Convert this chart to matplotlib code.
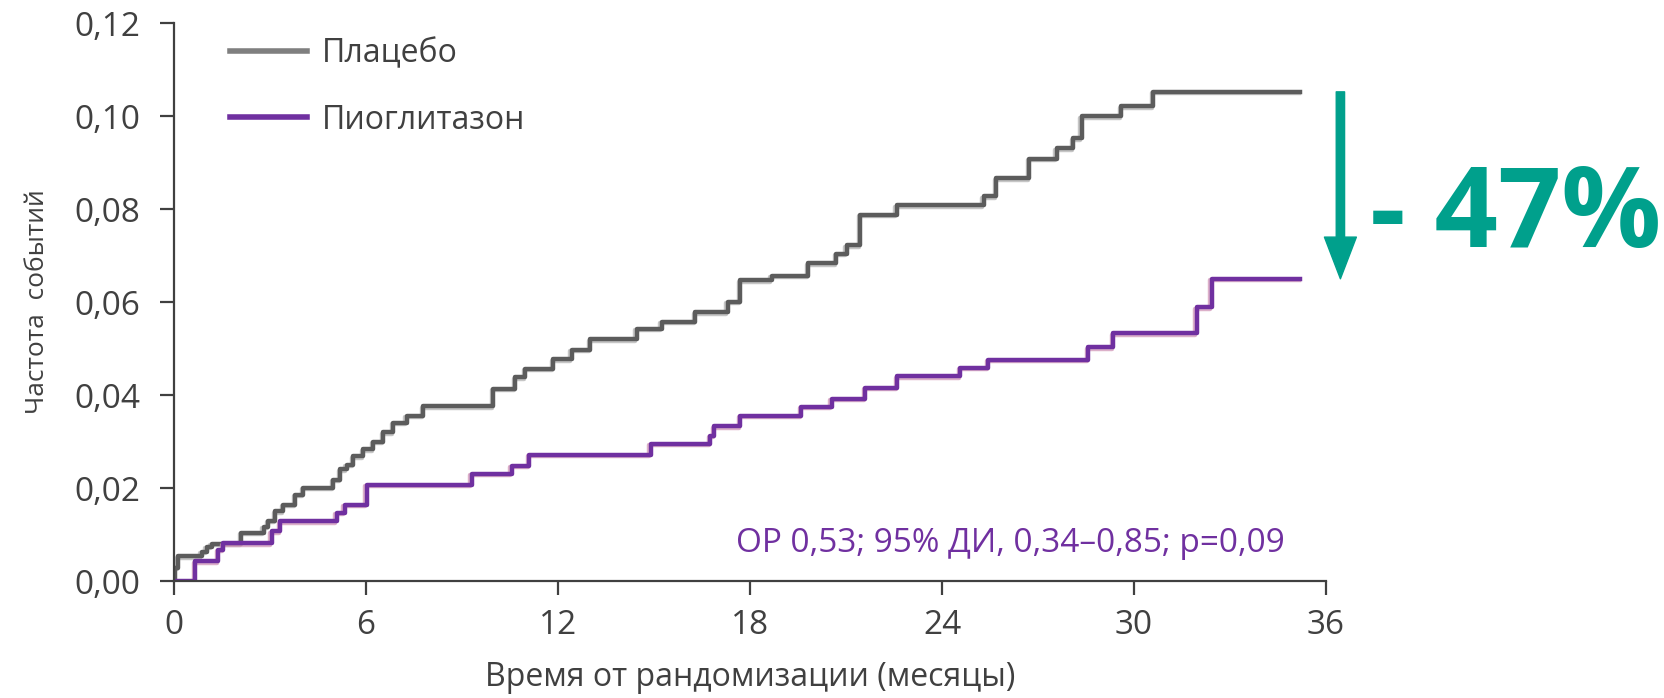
import matplotlib
matplotlib.use("Agg")
import matplotlib.pyplot as plt
import matplotlib.patheffects as pe
from matplotlib.lines import Line2D
from matplotlib.ticker import FuncFormatter

plt.rcParams['font.family'] = ['Open Sans', 'DejaVu Sans']

# кривые Каплана-Мейера: (месяц, частота событий после шага)
placebo_t = [0, 0.03, 0.14, 0.86, 1.02, 1.18, 2.10, 2.80, 2.95, 3.16, 3.42, 3.78, 4.04,
             4.98, 5.19, 5.40, 5.60, 5.92, 6.23, 6.54, 6.85, 7.27, 7.79, 9.98, 10.66,
             10.97, 11.85, 12.43, 13.00, 14.46, 15.24, 16.28, 17.30, 17.69, 18.68, 19.82,
             20.70, 21.02, 21.44, 22.58, 25.30, 25.70, 26.73, 27.58, 28.10, 28.37, 29.60,
             30.60, 35.2]
placebo_y = [0, 0.0028, 0.0053, 0.0063, 0.0074, 0.0080, 0.0104, 0.0117, 0.0130, 0.0150,
             0.0164, 0.0186, 0.0200, 0.0218, 0.0240, 0.0250, 0.0268, 0.0283, 0.0300, 0.0320,
             0.0340, 0.0355, 0.0376, 0.0413, 0.0438, 0.0456, 0.0477, 0.0497, 0.0520, 0.0542,
             0.0557, 0.0578, 0.0601, 0.0647, 0.0657, 0.0683, 0.0704, 0.0722, 0.0787, 0.0808,
             0.0827, 0.0866, 0.0908, 0.0931, 0.0952, 0.0999, 0.1021, 0.1052, 0.1052]

pio_t = [0, 0.66, 1.39, 1.54, 3.05, 3.31, 5.08, 5.34, 6.02, 9.30, 10.55, 11.10, 14.90,
         16.75, 16.88, 17.70, 19.60, 20.55, 21.60, 22.60, 24.56, 25.45, 28.57, 29.35,
         31.96, 32.43, 35.2]
pio_y = [0, 0.0042, 0.0067, 0.0081, 0.0107, 0.0128, 0.0147, 0.0164, 0.0207, 0.0230,
         0.0248, 0.0272, 0.0295, 0.0312, 0.0333, 0.0355, 0.0375, 0.0392, 0.0416, 0.0440,
         0.0459, 0.0476, 0.0503, 0.0533, 0.0589, 0.0650, 0.0650]

x_ticks = [0, 6, 12, 18, 24, 30, 36]
y_ticks = [0, 0.02, 0.04, 0.06, 0.08, 0.10, 0.12]

labels = ['Плацебо', 'Пиоглитазон']
hr_text = 'ОР 0,53; 95% ДИ, 0,34–0,85; p=0,09'
reduction = '- 47%'

dark = '#404040'
gray = '#5c5c5c'
purple = '#7030a0'
teal = '#00a08c'

fig = plt.figure(figsize=(16.65, 6.98), dpi=100)
ax = fig.add_axes([0.1045, 0.1676, 0.6919, 0.7994])

ax.plot(placebo_t, placebo_y, drawstyle='steps-post', color=gray, lw=3.2,
        path_effects=[pe.SimpleLineShadow(offset=(-1, -1), shadow_color='#b8b8b8', alpha=0.8), pe.Normal()])
ax.plot(pio_t, pio_y, drawstyle='steps-post', color=purple, lw=3.2,
        path_effects=[pe.SimpleLineShadow(offset=(-1, -1), shadow_color='#d49cbc', alpha=0.8), pe.Normal()])

ax.set_xlim(0, 36)
ax.set_ylim(0, 0.12)
ax.set_xticks(x_ticks)
ax.set_yticks(y_ticks)
ax.yaxis.set_major_formatter(FuncFormatter(lambda v, p: f'{v:.2f}'.replace('.', ',')))

for s in ['top', 'right']:
    ax.spines[s].set_visible(False)
for s in ['left', 'bottom']:
    ax.spines[s].set_color(dark)
    ax.spines[s].set_linewidth(1.6)

ax.tick_params(axis='both', colors=dark, labelsize=24, width=1.6, length=10)
ax.tick_params(axis='y', pad=14)
ax.tick_params(axis='x', pad=10)

ax.set_xlabel('Время от рандомизации (месяцы)', fontsize=23, color=dark, labelpad=14)
ax.set_ylabel('Частота  событий', fontsize=19, color=dark, labelpad=18)

# легенда
handles = [Line2D([], [], color='#7f7f7f', lw=4), Line2D([], [], color=purple, lw=4)]
ax.legend(handles, labels, loc='upper left', bbox_to_anchor=(0.049, 0.975), frameon=False,
          fontsize=23, handlelength=2.4, handletextpad=0.45, labelspacing=1.05,
          borderpad=0, borderaxespad=0, labelcolor=dark)

ax.text(34.7, 0.008, hr_text, color=purple, fontsize=24, ha='right', va='center')

# стрелка от плацебо к пиоглитазону
ax.annotate('', xy=(36.45, pio_y[-1]), xytext=(36.45, placebo_y[-1]),
            arrowprops=dict(arrowstyle='simple,head_length=1.5,head_width=1.15,tail_width=0.3',
                            color=teal, mutation_scale=20, shrinkA=0, shrinkB=0),
            annotation_clip=False)
fig.text(0.823, 0.688, reduction, color=teal, fontsize=80, fontweight='bold', ha='left', va='center')

fig.savefig('out.png', dpi=100)
